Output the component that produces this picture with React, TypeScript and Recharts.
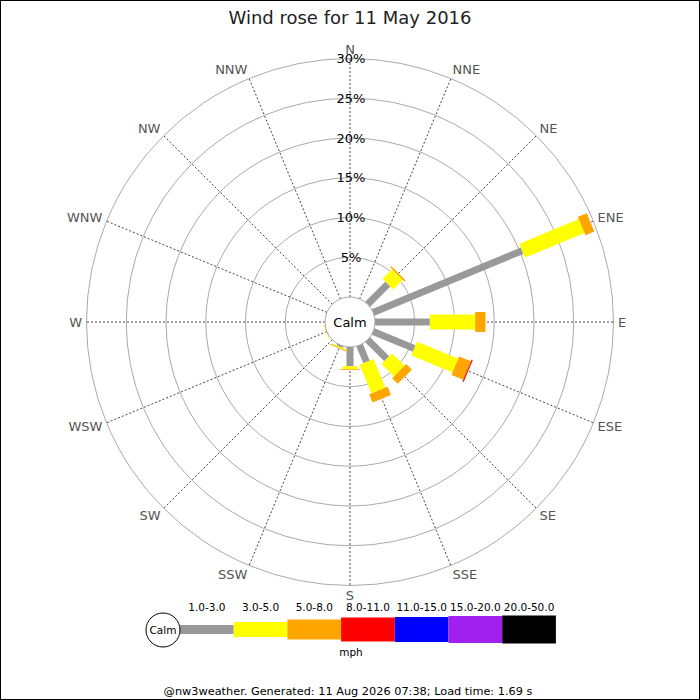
import React from 'react';
import {
  RadialBarChart,
  RadialBar,
  PolarGrid,
  PolarAngleAxis,
  PolarRadiusAxis,
} from 'recharts';

// ---------- data ----------
const directions = ['N', 'NNE', 'NE', 'ENE', 'E', 'ESE', 'SE', 'SSE', 'S', 'SSW', 'SW', 'WSW', 'W', 'WNW', 'NW', 'NNW'];
const speed1to3 = [0, 0, 3.6, 20.3, 6.9, 5.6, 3.4, 2.3, 2.4, 0.2, 0, 0, 0, 0, 0, 0];
const speed3to5 = [0, 0, 1.7, 8.1, 5.7, 5.6, 2.2, 3.9, 0.4, 0.15, 0, 0.1, 0, 0, 0, 0];
const speed5to8 = [0, 0, 0.2, 1.2, 1.3, 1.6, 1.0, 1.1, 0.1, 0.1, 0, 0, 0, 0, 0, 0];
const speed8to11 = [0, 0, 0, 0, 0, 0.15, 0, 0, 0, 0, 0, 0, 0, 0, 0, 0];
const speed11to15 = [0, 0, 0, 0, 0, 0, 0, 0, 0, 0, 0, 0, 0, 0, 0, 0];
const speed15to20 = [0, 0, 0, 0, 0, 0, 0, 0, 0, 0, 0, 0, 0, 0, 0, 0];
const speed20to50 = [0, 0, 0, 0, 0, 0, 0, 0, 0, 0, 0, 0, 0, 0, 0, 0];
const speedClasses = ['1.0-3.0', '3.0-5.0', '5.0-8.0', '8.0-11.0', '11.0-15.0', '15.0-20.0', '20.0-50.0'];
const radiusTicks = [5, 10, 15, 20, 25, 30];
const titleText = 'Wind rose for 11 May 2016';
const footerText = '@nw3weather. Generated: 11 Aug 2026 07:38; Load time: 1.69 s';

// ---------- styles ----------
const classColors = ['#999999', '#ffff00', '#ffa500', '#ff0000', '#0000ff', '#a020f0', '#000000'];
const barWidths = [7, 15, 20, 24, 25, 27, 28];
const legendWidths = [9, 15, 20, 24, 25, 27, 28];
const FONT = '"DejaVu Sans", sans-serif';
const CX = 350;
const CY = 322;
const INNER = 25;
const OUTER = 263.5;

const series = [speed1to3, speed3to5, speed5to8, speed8to11, speed11to15, speed15to20, speed20to50];
const keys = ['s1', 's2', 's3', 's4', 's5', 's6', 's7'];

const data = directions.map((dir, i) => {
  const row: any = { dir };
  series.forEach((s, k) => {
    row[keys[k]] = s[i];
  });
  return row;
});

const RAD = Math.PI / 180;

// The library's sector for a category spans [tick, tick + band]; the bar is drawn along the tick angle.
const makeShape = (width: number) => (props: any) => {
  const { cx, cy, innerRadius, outerRadius, startAngle, endAngle, fill } = props;
  if (!(outerRadius - innerRadius > 0.01)) return <g />;
  const ang = Math.min(startAngle, endAngle) * RAD;
  const ux = Math.cos(ang);
  const uy = -Math.sin(ang);
  const px = -uy;
  const py = ux;
  const h = width / 2;
  const pts = [
    [cx + ux * innerRadius + px * h, cy + uy * innerRadius + py * h],
    [cx + ux * outerRadius + px * h, cy + uy * outerRadius + py * h],
    [cx + ux * outerRadius - px * h, cy + uy * outerRadius - py * h],
    [cx + ux * innerRadius - px * h, cy + uy * innerRadius - py * h],
  ];
  return <polygon points={pts.map((p) => p.join(',')).join(' ')} fill={fill} />;
};

const AngleTick = (props: any) => {
  const { payload } = props;
  const a = payload.coordinate * RAD;
  const c = Math.cos(a);
  const s = Math.sin(a);
  const x = CX + 268 * c;
  const y = CY - 273 * s;
  const anchor = c > 0.05 ? 'start' : c < -0.05 ? 'end' : 'middle';
  return (
    <text x={x} y={y} textAnchor={anchor} dominantBaseline="central" fontFamily={FONT} fontSize={13} fill="#555555">
      {payload.value}
    </text>
  );
};

const RadiusTick = (props: any) => {
  const { x, y, payload } = props;
  if (!radiusTicks.includes(payload.value)) return <g />;
  return (
    <text x={x + 1} y={y} textAnchor="middle" dominantBaseline="central" fontFamily={FONT} fontSize={13} fill="#000000">
      {payload.value + '%'}
    </text>
  );
};

const Overlay = () => {
  const boxW = 53.7;
  const x0 = 180;
  const yMid = 629.5;
  return (
    <svg width={700} height={700} style={{ position: 'absolute', left: 0, top: 0, pointerEvents: 'none' }}>
      <rect x={0.5} y={0.5} width={699} height={699} fill="none" stroke="#000" strokeWidth={1} />
      <text x={350} y={24} textAnchor="middle" fontFamily={FONT} fontSize={18} fill="#222">
        {titleText}
      </text>
      <circle cx={CX} cy={CY} r={INNER} fill="#fff" stroke="#aaaaaa" strokeWidth={1} />
      <text x={CX} y={CY} textAnchor="middle" dominantBaseline="central" fontFamily={FONT} fontSize={13} fill="#000">
        Calm
      </text>
      {/* legend */}
      {speedClasses.map((lab, i) => (
        <g key={lab}>
          <rect
            x={x0 + i * boxW}
            y={yMid - legendWidths[i] / 2}
            width={boxW}
            height={legendWidths[i]}
            fill={classColors[i]}
          />
          <text x={x0 + i * boxW + boxW / 2} y={611} textAnchor="middle" fontFamily={FONT} fontSize={10.5} fill="#000">
            {lab}
          </text>
        </g>
      ))}
      <circle cx={163} cy={630} r={17} fill="#fff" stroke="#000" strokeWidth={1} />
      <text x={163} y={630} textAnchor="middle" dominantBaseline="central" fontFamily={FONT} fontSize={10.5} fill="#000">
        Calm
      </text>
      <text x={351} y={656} textAnchor="middle" fontFamily={FONT} fontSize={10.5} fill="#000">
        mph
      </text>
      <text x={348} y={695} textAnchor="middle" fontFamily={FONT} fontSize={11.3} fill="#000">
        {footerText}
      </text>
    </svg>
  );
};

export default function App() {
  return (
    <div style={{ position: 'absolute', left: 0, top: 0, width: 700, height: 700, background: '#fff' }}>
      <RadialBarChart
        width={700}
        height={700}
        data={data}
        cx={CX}
        cy={CY}
        innerRadius={INNER}
        outerRadius={OUTER}
        startAngle={90}
        endAngle={-270}
        layout="centric"
        margin={{ top: 0, right: 0, bottom: 0, left: 0 }}
        barCategoryGap="0%"
      >
        <PolarGrid gridType="circle" radialLines={false} stroke="#aaaaaa" strokeWidth={1} />
        <PolarGrid gridType="circle" polarRadius={[]} stroke="#444444" strokeDasharray="2 2" strokeWidth={1} />
        <PolarAngleAxis type="category" dataKey="dir" tick={<AngleTick />} tickLine={false} axisLine={false} />
        <PolarRadiusAxis
          type="number"
          domain={[0, 30]}
          ticks={radiusTicks}
          tickCount={7}
          angle={90}
          orientation="middle"
          axisLine={false}
          tickLine={false}
          tick={<RadiusTick />}
        />
        {keys.map((k, i) => (
          <RadialBar
            key={k}
            dataKey={k}
            stackId="a"
            fill={classColors[i]}
            isAnimationActive={false}
            shape={makeShape(barWidths[i])}
          />
        ))}
      </RadialBarChart>
      <Overlay />
    </div>
  );
}
